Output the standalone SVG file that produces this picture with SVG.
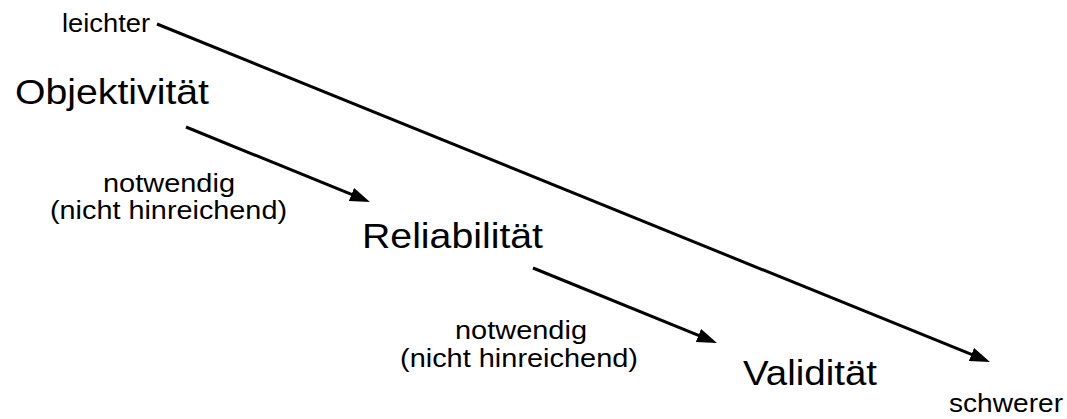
<svg xmlns="http://www.w3.org/2000/svg" width="1067" height="419" viewBox="0 0 1067 419">
<style>
text{font-family:"Liberation Sans",Arial,sans-serif;fill:#000}
.s{font-size:25px}
.l{font-size:35px}
.c{stroke:#000;stroke-width:3;fill:none}
</style>
<defs>
<marker id="ah" markerUnits="userSpaceOnUse" markerWidth="22" markerHeight="16" refX="10" refY="7" orient="auto">
<path d="M0,0 L20,7 L0,14 z" fill="#000"/>
</marker>
</defs>
<rect width="1067" height="419" fill="#fff"/>
<g id="connectors">
<line class="c" x1="157" y1="24" x2="980.7" y2="358.2" marker-end="url(#ah)"/>
<line class="c" x1="186" y1="127" x2="360.7" y2="198.2" marker-end="url(#ah)"/>
<line class="c" x1="533" y1="268" x2="707.7" y2="339.2" marker-end="url(#ah)"/>
</g>
<g id="leichter"><text class="s" x="62" y="32" textLength="88" lengthAdjust="spacingAndGlyphs">leichter</text></g>
<g id="objektivitaet"><text class="l" x="15" y="104" textLength="194" lengthAdjust="spacingAndGlyphs">Objektivität</text></g>
<g id="label1">
<text class="s" x="103" y="192" textLength="132" lengthAdjust="spacingAndGlyphs">notwendig</text>
<text class="s" x="50" y="219" textLength="237" lengthAdjust="spacingAndGlyphs">(nicht hinreichend)</text>
</g>
<g id="reliabilitaet"><text class="l" x="362" y="248" textLength="181" lengthAdjust="spacingAndGlyphs">Reliabilität</text></g>
<g id="label2">
<text class="s" x="455" y="339" textLength="132" lengthAdjust="spacingAndGlyphs">notwendig</text>
<text class="s" x="400" y="367" textLength="238" lengthAdjust="spacingAndGlyphs">(nicht hinreichend)</text>
</g>
<g id="validitaet"><text class="l" x="743" y="385" textLength="134" lengthAdjust="spacingAndGlyphs">Validität</text></g>
<g id="schwerer"><text class="s" x="949" y="412" textLength="114" lengthAdjust="spacingAndGlyphs">schwerer</text></g>
</svg>
